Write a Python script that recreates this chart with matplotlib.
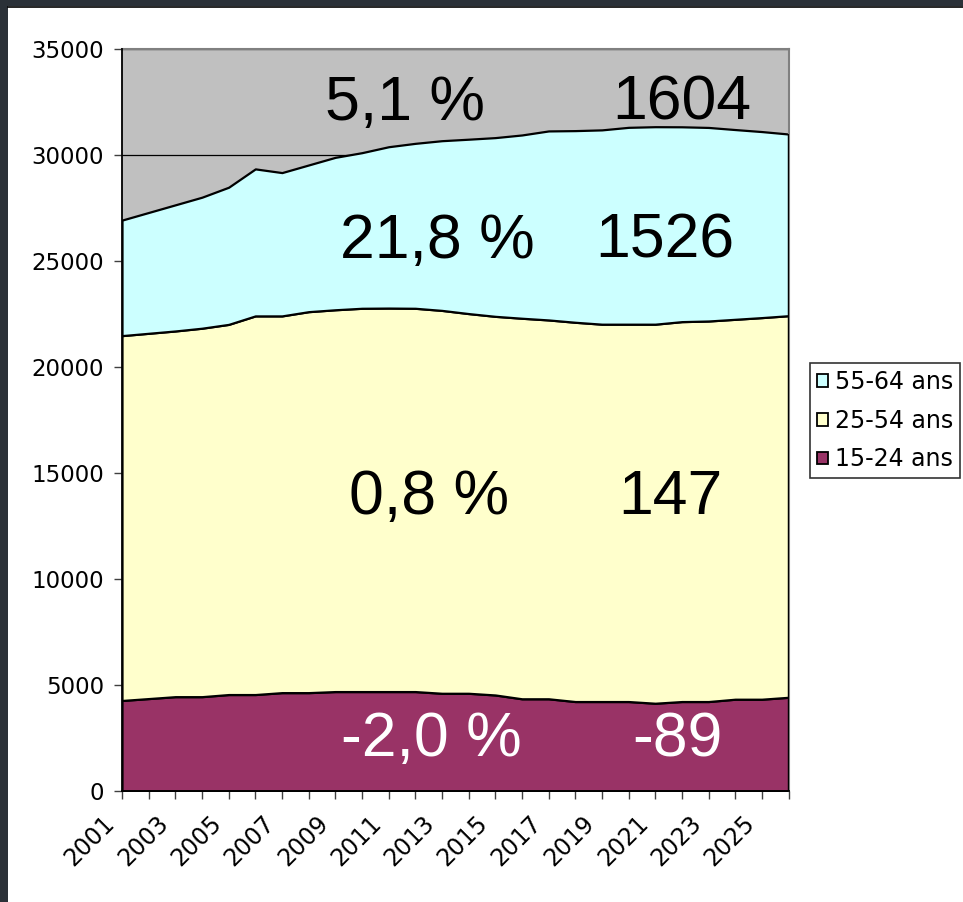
import matplotlib
matplotlib.use("Agg")
import matplotlib.pyplot as plt
from matplotlib.patches import Patch, Rectangle
from matplotlib.transforms import ScaledTranslation

plt.rcParams['font.family'] = ['Liberation Sans', 'DejaVu Sans']

# ---- data ----
years = [2001, 2002, 2003, 2004, 2005, 2006, 2007, 2008, 2009, 2010, 2011, 2012, 2013,
         2014, 2015, 2016, 2017, 2018, 2019, 2020, 2021, 2022, 2023, 2024, 2025, 2026]
ages_15_24 = [4270, 4360, 4450, 4450, 4550, 4550, 4640, 4640, 4690, 4690, 4690, 4690, 4610,
              4610, 4530, 4350, 4350, 4220, 4220, 4220, 4140, 4220, 4220, 4330, 4330, 4420]
ages_25_54 = [17210, 17230, 17250, 17380, 17460, 17860, 17770, 17970, 18010, 18080, 18090, 18080, 18060,
              17910, 17860, 17950, 17870, 17890, 17800, 17800, 17880, 17920, 17950, 17920, 18000, 18000]
ages_55_64 = [5450, 5700, 5950, 6180, 6470, 6935, 6760, 6920, 7190, 7340, 7610, 7780, 8005,
              8225, 8430, 8645, 8915, 9040, 9165, 9285, 9315, 9190, 9130, 8950, 8775, 8570]
series_names = ["15-24 ans", "25-54 ans", "55-64 ans"]
series_colors = ["#993366", "#FFFFCC", "#CCFFFF"]
yticks = [0, 5000, 10000, 15000, 20000, 25000, 30000, 35000]
xtick_labels = [str(y) if (y - 2001) % 2 == 0 else "" for y in years]

# annotations: (text, color)
annotations = [("5,1 %", "black"), ("1604", "black"),
               ("21,8 %", "black"), ("1526", "black"),
               ("0,8 %", "black"), ("147", "black"),
               ("-2,0 %", "white"), ("-89", "white")]
ann_pix = [(405, 103), (682, 103), (437, 241), (665, 241),
           (429, 497), (670, 497), (431, 740), (677, 740)]

W, H = 963, 902
fig = plt.figure(figsize=(W / 100, H / 100), dpi=100)
fig.patch.set_facecolor("white")

# screenshot frame
fig.patches.append(Rectangle((0, 0), 8 / W, 1, transform=fig.transFigure,
                             facecolor="#2b3138", edgecolor="none", zorder=0))
fig.patches.append(Rectangle((0, 1 - 6 / H), 1, 6 / H, transform=fig.transFigure,
                             facecolor="#2b3138", edgecolor="none", zorder=0))
fig.lines.append(plt.Line2D([8 / W, 1], [1 - 6.5 / H, 1 - 6.5 / H], transform=fig.transFigure,
                            color="black", lw=1.2))

L, R, B, T = 122, 788.5, 791, 49
ax = fig.add_axes([L / W, 1 - B / H, (R - L) / W, (B - T) / H])
ax.set_facecolor("#C0C0C0")

ax.stackplot(years, ages_15_24, ages_25_54, ages_55_64, colors=series_colors,
             edgecolor="black", linewidth=1.6, zorder=2)
totals = [a + b + c for a, b, c in zip(ages_15_24, ages_25_54, ages_55_64)]
ax.vlines(years[-1], 0, totals[-1], color="black", lw=1.6, zorder=3)

ax.set_xlim(years[0], years[-1])
ax.set_ylim(yticks[0], yticks[-1])
ax.set_yticks(yticks)
ax.set_yticklabels([str(v) for v in yticks], family="DejaVu Sans")
ax.set_xticks(years)
ax.set_xticklabels(xtick_labels, family="DejaVu Sans")

ax.set_axisbelow(True)
ax.yaxis.grid(True, color="black", lw=0.9)
ax.xaxis.grid(False)

for s in ["top", "right"]:
    ax.spines[s].set_color("#808080")
    ax.spines[s].set_linewidth(1.5)
for s in ["left", "bottom"]:
    ax.spines[s].set_color("black")
    ax.spines[s].set_linewidth(1.3)
    ax.spines[s].set_zorder(4)

ax.tick_params(axis="y", direction="out", length=6, width=1, color="#404040",
               labelsize=16.5, pad=7)
ax.tick_params(axis="x", direction="out", length=6, width=1, color="#404040",
               labelsize=17, pad=0)
for lab in ax.get_xticklabels():
    lab.set_rotation(45)
    lab.set_ha("right")
    lab.set_va("center")
    lab.set_rotation_mode("anchor")
    lab.set_transform(lab.get_transform() + ScaledTranslation(-11 / 100, -20 / 100, fig.dpi_scale_trans))

for (txt, col), (px, py) in zip(annotations, ann_pix):
    fig.text(px / W, 1 - py / H, txt, color=col, fontsize=45, ha="center", va="center",
             zorder=10)

handles = [Patch(facecolor=c, edgecolor="black", linewidth=1.3) for c in series_colors]
order = [2, 1, 0]
leg = fig.legend([handles[i] for i in order], [series_names[i] for i in order],
                 loc="upper left", bbox_to_anchor=(810 / W, 1 - 363 / H),
                 prop={"family": "DejaVu Sans", "size": 17},
                 frameon=True, fancybox=False, edgecolor="black",
                 handlelength=0.45, handleheight=0.45, handletextpad=0.3,
                 labelspacing=0.62, borderpad=0.3, borderaxespad=0)
leg.get_frame().set_linewidth(1.2)

fig.savefig("out.png", dpi=100, facecolor=fig.get_facecolor())
